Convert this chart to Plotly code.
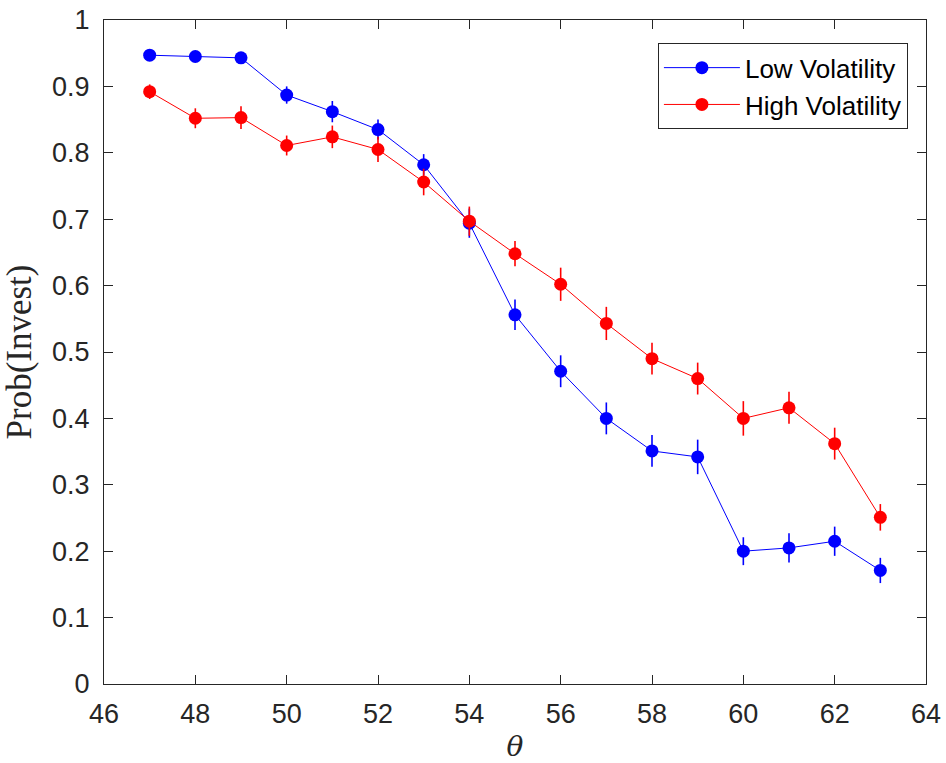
import plotly.graph_objects as go

theta = [47, 48, 49, 50, 51, 52, 53, 54, 55, 56, 57, 58, 59, 60, 61, 62, 63]
low_vol = [0.947, 0.945, 0.943, 0.887, 0.862, 0.835, 0.782, 0.694, 0.556, 0.471, 0.400, 0.351, 0.342, 0.200, 0.205, 0.215, 0.171]
low_err = [0.006, 0.006, 0.006, 0.013, 0.016, 0.015, 0.016, 0.022, 0.023, 0.024, 0.024, 0.024, 0.026, 0.021, 0.022, 0.022, 0.019]
high_vol = [0.892, 0.852, 0.853, 0.811, 0.824, 0.805, 0.756, 0.697, 0.648, 0.602, 0.543, 0.490, 0.460, 0.400, 0.416, 0.362, 0.251]
high_err = [0.011, 0.015, 0.017, 0.015, 0.017, 0.019, 0.020, 0.022, 0.019, 0.025, 0.025, 0.024, 0.024, 0.026, 0.024, 0.024, 0.020]

x_ticks = [46, 48, 50, 52, 54, 56, 58, 60, 62, 64]
y_ticks = [0, 0.1, 0.2, 0.3, 0.4, 0.5, 0.6, 0.7, 0.8, 0.9, 1]
y_tick_text = ["0", "0.1", "0.2", "0.3", "0.4", "0.5", "0.6", "0.7", "0.8", "0.9", "1"]

fig = go.Figure()
fig.add_trace(go.Scatter(
    x=theta, y=low_vol, mode="lines+markers", name="Low Volatility",
    line=dict(color="#0000FF", width=1),
    marker=dict(color="#0000FF", size=13, symbol="circle"),
    error_y=dict(type="data", array=low_err, visible=True, color="#0000FF", thickness=1.6, width=0),
))
fig.add_trace(go.Scatter(
    x=theta, y=high_vol, mode="lines+markers", name="High Volatility",
    line=dict(color="#FF0000", width=1),
    marker=dict(color="#FF0000", size=13, symbol="circle"),
    error_y=dict(type="data", array=high_err, visible=True, color="#FF0000", thickness=1.6, width=0),
))

axis_common = dict(
    showgrid=False, zeroline=False, showline=True, linecolor="#262626", linewidth=1,
    mirror="allticks", ticks="inside", ticklen=9, tickcolor="#262626", tickwidth=1,
    tickfont=dict(family="Liberation Sans, Arial, sans-serif", size=27, color="#262626"),
    automargin=False, ticklabeloverflow="allow",
)

fig.update_layout(
    width=946, height=763,
    margin=dict(l=104, r=20, t=20, b=79),
    paper_bgcolor="white", plot_bgcolor="white",
    xaxis=dict(range=[46, 64], tickvals=x_ticks, ticklabelstandoff=6, **axis_common,
               title=dict(text="<i>θ</i>", font=dict(family="DejaVu Serif, serif", size=28, color="#262626"), standoff=8)),
    yaxis=dict(range=[0, 1], tickvals=y_ticks, ticktext=y_tick_text, ticklabelstandoff=8, **axis_common,
               title=dict(text="Prob(Invest)", font=dict(family="Liberation Serif, serif", size=35, color="#262626"), standoff=12)),
    legend=dict(x=0.978, y=0.965, xanchor="right", yanchor="top",
                bgcolor="white", bordercolor="#262626", borderwidth=1,
                font=dict(family="Liberation Sans, Arial, sans-serif", size=26, color="#000000"),
                tracegroupgap=0, itemwidth=76),
    showlegend=True,
)

fig.write_html("out.html", config={"displayModeBar": False},
               post_script="document.body.style.margin='0';document.body.style.overflow='hidden';")
